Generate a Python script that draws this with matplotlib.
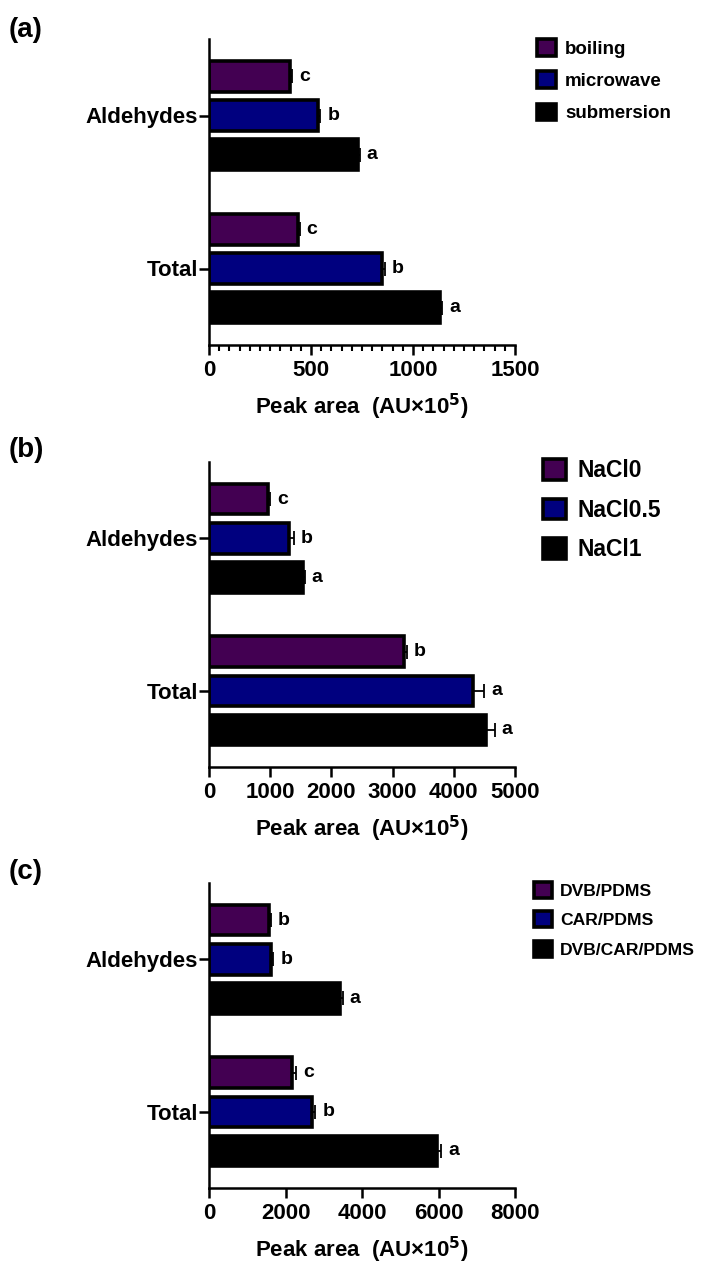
import numpy as np
import matplotlib
matplotlib.use("Agg")
import matplotlib.pyplot as plt
from matplotlib.ticker import MultipleLocator

plt.rcParams['font.family'] = ['Liberation Sans', 'DejaVu Sans']
plt.rcParams['font.weight'] = 'bold'

categories = ["Aldehydes", "Total"]
colors = ["#430052", "#00007f", "#000000"]

# panel (a): extraction method
a_labels = ["boiling", "microwave", "submersion"]
a_vals = [[398, 435], [532, 850], [730, 1134]]
a_errs = [[10, 10], [14, 12], [9, 10]]
a_sig = [["c", "c"], ["b", "b"], ["a", "a"]]

# panel (b): salt addition
b_labels = ["NaCl0", "NaCl0.5", "NaCl1"]
b_vals = [[960, 3190], [1300, 4320], [1540, 4520]]
b_errs = [[35, 45], [90, 180], [25, 150]]
b_sig = [["c", "b"], ["b", "a"], ["a", "a"]]

# panel (c): fibre type
c_labels = ["DVB/PDMS", "CAR/PDMS", "DVB/CAR/PDMS"]
c_vals = [[1560, 2180], [1620, 2700], [3420, 5950]]
c_errs = [[50, 90], [60, 80], [80, 120]]
c_sig = [["b", "c"], ["b", "b"], ["a", "a"]]


def draw_panel(ax, labels, vals, errs, sig, xmax, xstep, minor, leg_pos, leg_fs, tag, tag_y):
    y = np.arange(len(categories))
    for i in range(3):
        pos = y + (i - 1) * 0.256
        ax.barh(pos, vals[i], height=0.2, color=colors[i], edgecolor="black",
                linewidth=2.6, label=labels[i], zorder=2)
        ax.errorbar(vals[i], pos, xerr=[np.zeros(2), errs[i]], fmt="none",
                    ecolor="black", elinewidth=1.3, capsize=5, capthick=1.3, zorder=3)
        for v, e, p, s in zip(vals[i], errs[i], pos, sig[i]):
            ax.annotate(s, (v + e, p), xytext=(5, 0), textcoords="offset points",
                        ha="left", va="center", fontsize=14, fontweight="bold")
    ax.set_ylim(1.5, -0.5)
    ax.set_xlim(0, xmax)
    ax.set_yticks(y)
    ax.set_yticklabels(categories)
    ax.set_xticks(np.arange(0, xmax + 1, xstep))
    if minor:
        ax.xaxis.set_minor_locator(MultipleLocator(minor))
        ax.tick_params(axis="x", which="minor", length=4.5, width=1.5)
    for s in ["top", "right"]:
        ax.spines[s].set_visible(False)
    for s in ["left", "bottom"]:
        ax.spines[s].set_linewidth(1.8)
    ax.tick_params(axis="both", which="major", length=7, width=1.8, labelsize=16)
    ax.tick_params(axis="y", pad=1)
    ax.set_xlabel("Peak area  (AU×10$^{\\mathbf{5}}$)", fontsize=16, fontweight="bold", labelpad=8)
    ax.legend(loc="upper left", bbox_to_anchor=leg_pos, bbox_transform=fig.transFigure,
              frameon=False, fontsize=leg_fs, handlelength=1.0, handleheight=1.0,
              handletextpad=0.5, labelspacing=0.72, borderpad=0, borderaxespad=0)
    fig.text(0.012, tag_y, tag, fontsize=20, fontweight="bold", va="center")


fig = plt.figure(figsize=(7.07, 12.66), dpi=100)
H = 1266.0
W = 707.0
ax_a = fig.add_axes([209 / W, 1 - 345 / H, 306 / W, 306 / H])
ax_b = fig.add_axes([209 / W, 1 - 767 / H, 306 / W, 305 / H])
ax_c = fig.add_axes([209 / W, 1 - 1188 / H, 306 / W, 305 / H])

draw_panel(ax_a, a_labels, a_vals, a_errs, a_sig, 1500, 500, 50,
           (537 / W, 1 - 39 / H), 13.5, "(a)", 1 - 30 / H)
draw_panel(ax_b, b_labels, b_vals, b_errs, b_sig, 5000, 1000, None,
           (543 / W, 1 - 459 / H), 16.5, "(b)", 1 - 450 / H)
draw_panel(ax_c, c_labels, c_vals, c_errs, c_sig, 8000, 2000, None,
           (534 / W, 1 - 882 / H), 12.6, "(c)", 1 - 872 / H)

fig.savefig("out.png", dpi=100)
